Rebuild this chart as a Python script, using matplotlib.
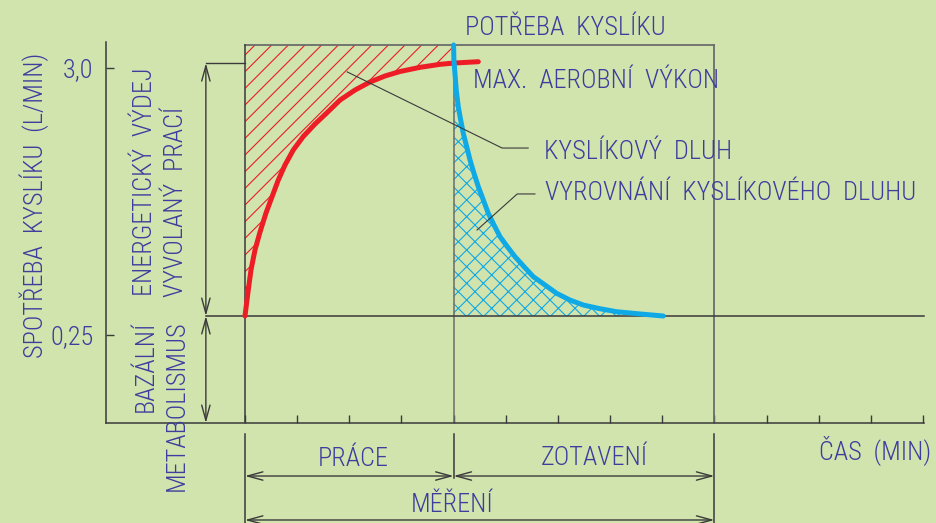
import matplotlib
matplotlib.use("Agg")
import matplotlib.pyplot as plt
from matplotlib import font_manager as fm
import numpy as np

# ---------------------------------------------------------------------------
# data (time in min, O2 uptake in L/min, schematic)
# ---------------------------------------------------------------------------
red_t = [0.000, 0.058, 0.115, 0.192, 0.288, 0.403, 0.531, 0.639, 0.767, 0.926, 1.118,
         1.342, 1.567, 1.822, 2.109, 2.397, 2.685, 2.972, 3.356, 3.739, 4.000, 4.474]
red_v = [0.446, 0.693, 0.920, 1.126, 1.311, 1.507, 1.692, 1.847, 2.001, 2.156, 2.295,
         2.423, 2.537, 2.670, 2.773, 2.856, 2.918, 2.964, 3.007, 3.038, 3.051, 3.065]

blue_t = [4.0, 4.006, 4.026, 4.051, 4.090, 4.136, 4.186, 4.251, 4.315, 4.391, 4.474,
          4.570, 4.665, 4.775, 4.890, 5.030, 5.177, 5.350, 5.528, 5.753, 5.977, 6.232,
          6.487, 6.807, 7.127, 7.574, 8.021]
blue_v = [3.237, 3.082, 2.945, 2.773, 2.601, 2.464, 2.327, 2.189, 2.053, 1.915, 1.778,
          1.641, 1.504, 1.383, 1.263, 1.160, 1.057, 0.954, 0.851, 0.765, 0.679, 0.610,
          0.559, 0.521, 0.490, 0.467, 0.446]

rest_level = 0.446     # bazalni metabolismus
demand_level = 3.237   # potreba kysliku
vmax_level = 3.05      # max. aerobni vykon
work_end = 4.0
recovery_end = 9.0

x_ticks = list(range(14))
y_ticks = [0.25, 3.0]
y_ticklabels = ["0,25", "3,0"]

# ---------------------------------------------------------------------------
BG = "#d1e4ae"
TXT = "#3d3d9e"
RED = "#ee1d25"
BLUE = "#0fa9e6"
DARK = "#3a3a3a"
GREY = "#6c6c6c"


def have(name):
    try:
        fm.findfont(name, fallback_to_default=False)
        return True
    except ValueError:
        return False


fams = [f for f in ['Roboto Condensed', 'Liberation Sans Narrow', 'DejaVu Sans Condensed',
                    'Open Sans Condensed', 'Roboto'] if have(f)]
plt.rcParams['font.family'] = fams + ['DejaVu Sans']
plt.rcParams['font.stretch'] = 'condensed'
plt.rcParams['font.weight'] = 'light'
plt.rcParams['hatch.linewidth'] = 0.8

fig = plt.figure(figsize=(9.36, 5.23), dpi=100)
fig.patch.set_facecolor(BG)

# size the lettering so the longest label spans what it spans in the drawing
r = fig.canvas.get_renderer()
probe = fig.text(0, 0, "VYROVNÁNÍ  KYSLÍKOVÉHO  DLUHU", fontsize=20)
FS = 20 * 372 / probe.get_window_extent(r).width
probe.remove()

ax = fig.add_axes([106 / 936, 100 / 523, 818 / 936, 381 / 523])
ax.set_facecolor(BG)
ax.set_xlim(-2.665, 13.02)
ax.set_ylim(-0.656, 3.268)

for s in ['top', 'right']:
    ax.spines[s].set_visible(False)
for s in ['left', 'bottom']:
    ax.spines[s].set_color(DARK)
    ax.spines[s].set_linewidth(1.1)

ax.set_xticks(x_ticks)
ax.set_xticklabels([])
ax.tick_params(axis='x', direction='in', length=6, width=1, color=DARK)
ax.set_yticks(y_ticks)
ax.set_yticklabels(y_ticklabels)
ax.tick_params(axis='y', direction='in', length=6, width=1, color=DARK,
               labelcolor=TXT, labelsize=FS, pad=9)

# frame of the work / recovery box
ax.plot([0, recovery_end], [demand_level, demand_level], color=GREY, lw=1.3, clip_on=False)
ax.plot([0, 0], [-0.656, demand_level], color=DARK, lw=1.1)
ax.plot([work_end, work_end], [-0.656, demand_level], color=GREY, lw=1.1)
ax.plot([recovery_end, recovery_end], [-0.656, demand_level], color=GREY, lw=1.3)
ax.plot([-0.75, 13.02], [rest_level, rest_level], color=DARK, lw=1.1, clip_on=False)

# hatched areas
red_t = np.array(red_t)
red_v = np.array(red_v)
m = red_t <= work_end
ax.fill_between(red_t[m], red_v[m], demand_level, facecolor='none',
                edgecolor=RED, hatch='//', lw=0, zorder=1)
ax.fill_between(blue_t, rest_level, blue_v, facecolor='none',
                edgecolor=BLUE, hatch='xx', lw=0, zorder=1)

# curves
ax.plot(red_t, red_v, color=RED, lw=3.6, solid_capstyle='round',
        solid_joinstyle='round', zorder=4, clip_on=False)
ax.plot(blue_t, blue_v, color=BLUE, lw=3.6, solid_capstyle='round',
        solid_joinstyle='round', zorder=5, clip_on=False)

# leader lines
ax.plot([1.96, 4.93, 5.43], [2.96, 2.176, 2.176], color=DARK, lw=0.8, zorder=6)
ax.plot([4.45, 5.22, 5.56], [1.332, 1.703, 1.703], color=DARK, lw=0.8, zorder=6)


def dim(p0, p1):
    ax.annotate('', xy=p1, xytext=p0, annotation_clip=False,
                arrowprops=dict(arrowstyle='<->,head_length=1.1,head_width=0.3',
                                color=DARK, lw=1.0, shrinkA=0, shrinkB=0,
                                mutation_scale=10))


# left dimension
ax.plot([-0.75, 0], [vmax_level, vmax_level], color=DARK, lw=1.0, clip_on=False)
dim((-0.75, rest_level), (-0.75, vmax_level))
dim((-0.75, rest_level), (-0.75, -0.656))

# bottom dimensions
ax.plot([0, 0], [-0.77, -1.69], color=DARK, lw=1.1, clip_on=False)
ax.plot([work_end, work_end], [-0.77, -1.22], color=DARK, lw=1.1, clip_on=False)
ax.plot([recovery_end, recovery_end], [-0.77, -1.69], color=DARK, lw=1.1, clip_on=False)
dim((0, -1.202), (work_end, -1.202))
dim((work_end, -1.202), (recovery_end, -1.202))
dim((0, -1.655), (recovery_end, -1.655))

# texts
kw = dict(color=TXT, fontsize=FS)
ax.text(2.07, -1.03, "PRÁCE", ha='center', va='center', **kw)
ax.text(6.69, -1.02, "ZOTAVENÍ", ha='center', va='center', **kw)
ax.text(3.98, -1.50, "MĚŘENÍ", ha='center', va='center', **kw)
ax.text(12.08, -0.93, "ČAS  (MIN)", ha='center', va='center', **kw)
ax.text(4.22, 3.41, "POTŘEBA  KYSLÍKU", ha='left', va='center', **kw)
ax.text(4.37, 2.866, "MAX.  AEROBNÍ  VÝKON", ha='left', va='center', **kw)
ax.text(5.73, 2.135, "KYSLÍKOVÝ  DLUH", ha='left', va='center', **kw)
ax.text(5.75, 1.713, "VYROVNÁNÍ  KYSLÍKOVÉHO  DLUHU", ha='left', va='center', **kw)

ax.text(-4.05, 1.59, "SPOTŘEBA  KYSLÍKU  (L/MIN)", rotation=90,
        ha='center', va='center', **kw)
ax.text(-1.92, 0.652, "ENERGETICKÝ  VÝDEJ", rotation=90, rotation_mode='anchor',
        ha='left', va='center', **kw)
ax.text(-1.32, 0.64, "VYVOLANÝ  PRACÍ", rotation=90, rotation_mode='anchor',
        ha='left', va='center', **kw)
ax.text(-1.90, 0.394, "BAZÁLNÍ", rotation=90, rotation_mode='anchor',
        ha='right', va='center', **kw)
ax.text(-1.30, 0.405, "METABOLISMUS", rotation=90, rotation_mode='anchor',
        ha='right', va='center', **kw)

fig.savefig("out.png", dpi=100, facecolor=BG)
